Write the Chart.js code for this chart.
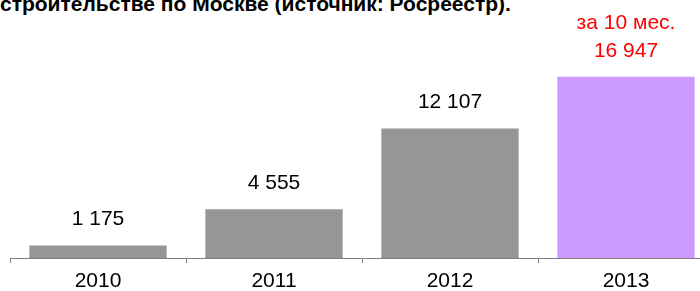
<!DOCTYPE html>
<html>
<head>
<meta charset="utf-8">
<script src="https://cdn.jsdelivr.net/npm/chart.js@4"></script>
<style>
html,body{margin:0;padding:0;background:#fff;overflow:hidden;width:700px;height:291px}
#wrap{position:relative;width:700px;height:291px;overflow:hidden}
#title{position:absolute;left:0;top:-7px;font:bold 21px "Liberation Sans",Arial,sans-serif;line-height:21px;color:#000;white-space:nowrap}
canvas{position:absolute;left:0;top:0}
</style>
</head>
<body>
<div id="wrap">
<div id="title">строительстве по Москве (источник: Росреестр).</div>
<canvas id="c" width="714" height="291" style="width:714px;height:291px"></canvas>
</div>
<script>
// years and values
const years=["2010","2011","2012","2013"]
const values=[1175,4555,12107,16947]
const valueLabels=["1 175","4 555","12 107","16 947"]
const notes=["","","","за 10 мес."]
const partial=[false,false,false,true]

const FONT='"Liberation Sans", Arial, sans-serif'

const barLabels={
id:"barLabels",
afterDatasetsDraw(chart){
const ctx=chart.ctx
const meta=chart.getDatasetMeta(0)
ctx.save()
ctx.font="21px "+FONT
ctx.textAlign="center"
ctx.textBaseline="alphabetic"
meta.data.forEach((bar,i)=>{
ctx.fillStyle=partial[i]?"#FF0000":"#000000"
const y=bar.y-20
ctx.fillText(valueLabels[i],bar.x,y)
if(notes[i]) ctx.fillText(notes[i],bar.x,y-28)
})
ctx.restore()
}
}

new Chart(document.getElementById("c"),{
type:"bar",
data:{labels:years,datasets:[{
data:values,
backgroundColor:partial.map(p=>p?"#CC99FF":"#969696"),
borderWidth:0,
barPercentage:0.78,
categoryPercentage:1
}]},
options:{
responsive:false,
animation:false,
layout:{padding:{left:10,top:44,right:0,bottom:0}},
plugins:{legend:{display:false},tooltip:{enabled:false}},
scales:{
x:{
offset:true,
border:{color:"#808080",width:1},
grid:{drawOnChartArea:false,drawTicks:true,tickLength:5,color:"#808080",offset:true},
ticks:{color:"#000",font:{family:FONT,size:21},padding:6},
afterFit(s){s.height=33}
},
y:{display:false,min:0,max:20000}
}
},
plugins:[barLabels]
})
</script>
</body>
</html>
